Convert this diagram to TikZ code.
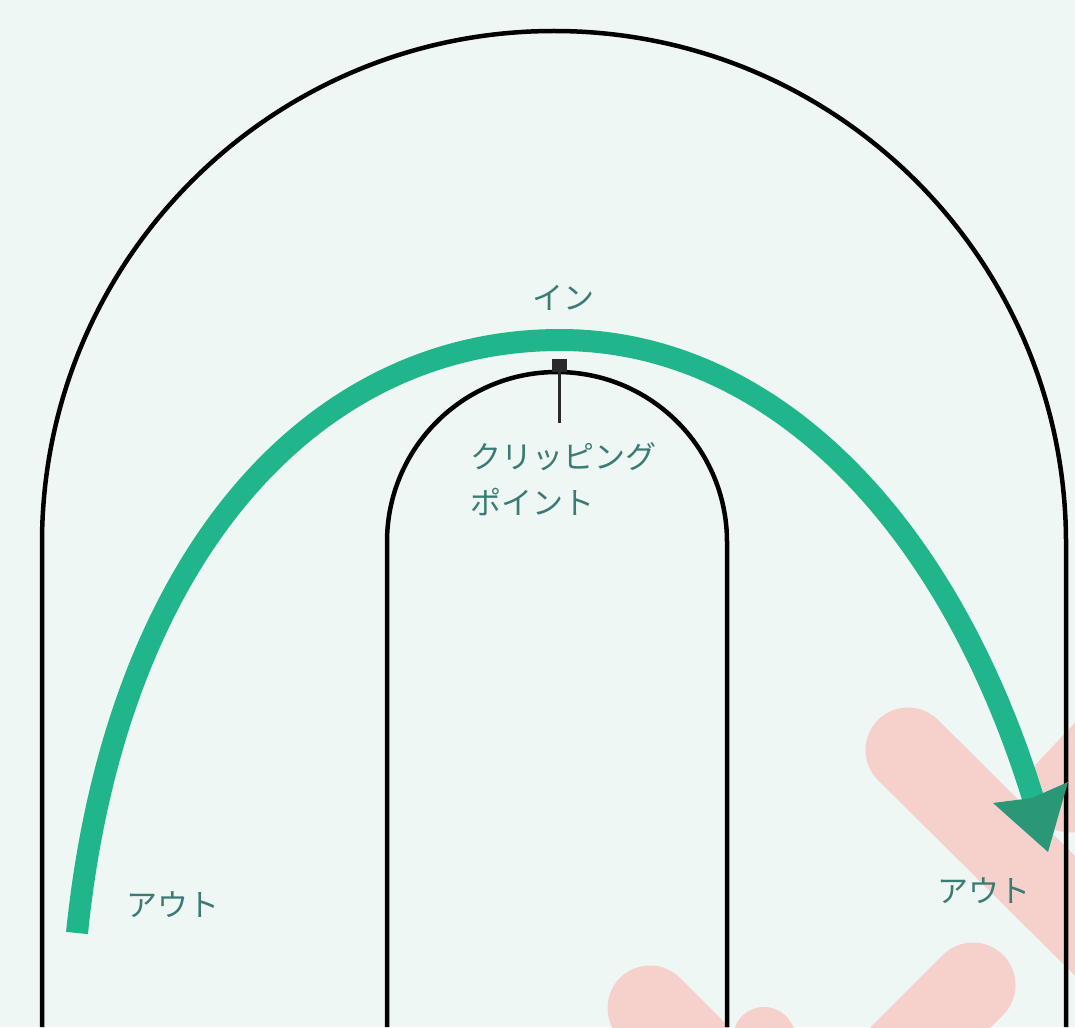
\documentclass[tikz,border=0pt]{standalone}
\usepackage{fontspec}
\newfontfamily\jp{Noto Sans CJK JP}
\definecolor{bgc}{HTML}{EFF7F4}
\definecolor{racegreen}{HTML}{21B58C}
\definecolor{headgreen}{HTML}{2A9877}
\definecolor{wmpink}{HTML}{F6D0CB}
\definecolor{labelc}{HTML}{3B7B73}
\definecolor{markc}{HTML}{2A2A2A}
\begin{document}
\begin{tikzpicture}[x=1pt,y=-1pt,
  track/.style={draw=black,line width=4.5pt},
  wmark/.style={draw=wmpink,line width=85pt,line cap=round},
  lineup/.style={draw=racegreen,line width=22pt,line cap=butt},
  lbl/.style={text=labelc,inner sep=0pt,font=\jp\fontsize{31}{46}\selectfont}]
\useasboundingbox (0,0) rectangle (1075,1027);
\fill[bgc] (0,0) rectangle (1075,1027);
% faint watermark strokes
\begin{scope}
\clip (0,0) rectangle (1075,1027);
\draw[wmark] (908,750) -- (1180,1020);
\draw[wmark] (1240,610) -- (1070,790);
\draw[wmark] (973,985) -- (860,1098);
\draw[wmark] (650,1008) -- (740,1098);
\draw[wmark,line width=62pt] (764,1038) -- (800,1100);
\end{scope}
% track
\coordinate (outerL) at (42,1027);
\coordinate (outerR) at (1066,1027);
\coordinate (innerL) at (387,1027);
\coordinate (innerR) at (727,1027);
\draw[track] (outerL) -- (42,543) arc[start angle=180,end angle=360,radius=512] -- (outerR);
\draw[track] (innerL) -- (387,542) arc[start angle=180,end angle=360,radius=170] -- (innerR);
% racing line
\coordinate (start) at (77,933);
\coordinate (apex) at (560,340);
\coordinate (shaftend) at (1036,808);
\draw[lineup] (start) .. controls (115,560) and (310,340) .. (apex)
  .. controls (770,340) and (950,520) .. (shaftend);
\fill[headgreen] (993,803) -- (1048,852) -- (1068,782) -- (1032,798) -- cycle;
% clipping point marker
\coordinate (cpmark) at (559,366);
\coordinate (cpfoot) at (559,423);
\fill[markc] (552,359) rectangle (567,372);
\draw[markc,line width=3pt] (cpmark) -- (cpfoot);
% labels
\node[lbl] (in) at (563,298) {イン};
\node[lbl,anchor=west,align=left] (cp) at (470,479) {クリッピング\\ポイント};
\node[lbl,anchor=west] (outl) at (126,905) {アウト};
\node[lbl,anchor=west] (outr) at (937,891) {アウト};
\end{tikzpicture}
\end{document}
